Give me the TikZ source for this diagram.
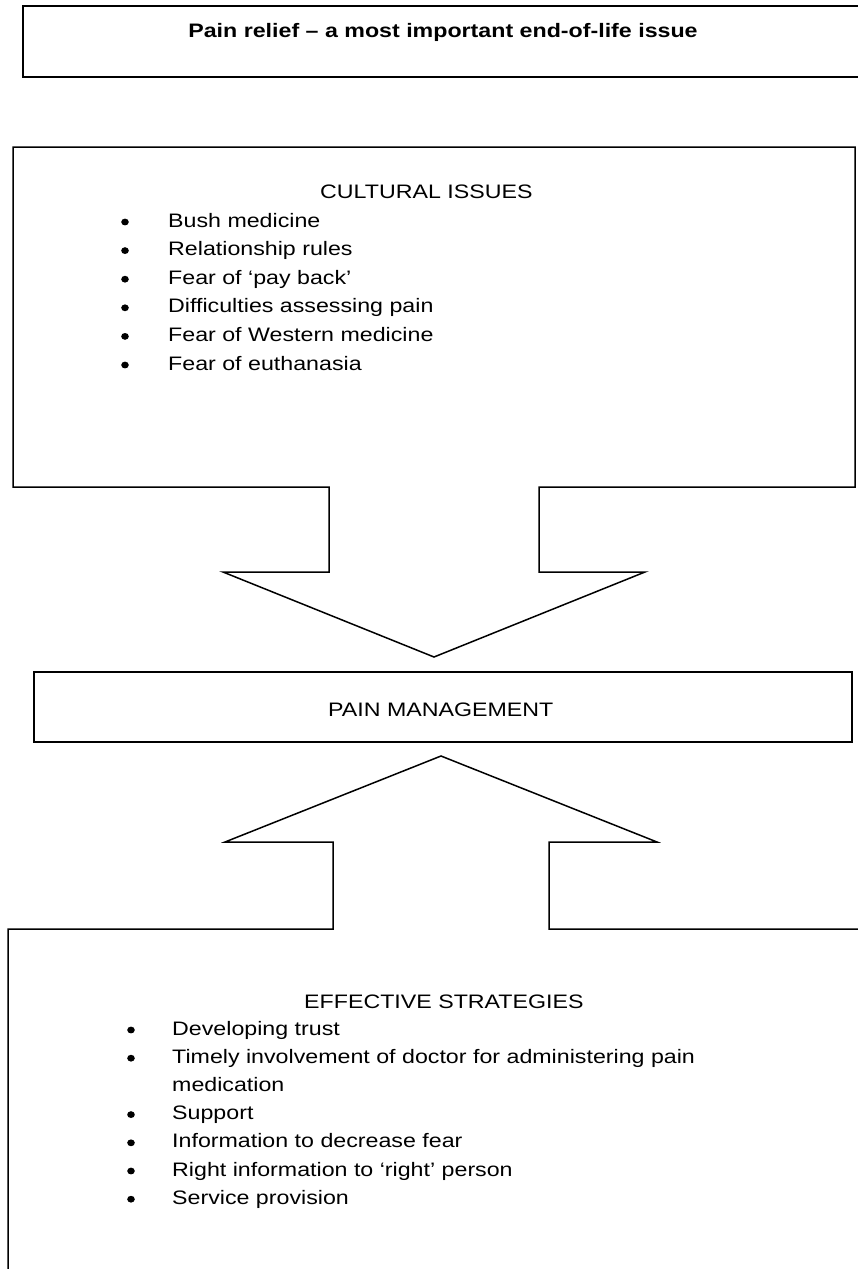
\documentclass[tikz,border=0pt]{standalone}
\usepackage{fontspec}
\setmainfont{Liberation Sans}[FakeStretch=1.19]
\begin{document}
\begin{tikzpicture}[x=1pt,y=-1pt,
  outline/.style={draw=black,line width=1.5pt,line join=miter},
  heavy/.style={draw=black,line width=2.3pt},
  txt/.style={inner sep=0pt,anchor=base west,font=\fontsize{19.5}{23}\selectfont},
  ttl/.style={inner sep=0pt,anchor=base,font=\fontsize{19.5}{23}\selectfont\bfseries},
  dot/.style={fill=black}]
\clip (0,0) rectangle (858,1269);
\fill[white] (0,0) rectangle (858,1269);
% title box
\draw[heavy] (23,6) rectangle (890,77);
\node[ttl] (title) at (443,37) {Pain relief – a most important end-of-life issue};
% cultural issues box with down arrow
\draw[outline] (13,147) -- (855,147) -- (855,487) -- (539,487) -- (539,572)
  -- (645,572) -- (434,657) -- (223,572) -- (329,572) -- (329,487)
  -- (13,487) -- cycle;
\node[txt] (cult) at (320,198) {CULTURAL ISSUES};
\foreach \t [count=\i from 0] in {Bush medicine,Relationship rules,Fear of ‘pay back’,Difficulties assessing pain,Fear of Western medicine,Fear of euthanasia}{
  \fill[dot] (125,{227+28.6*\i-5}) ellipse [x radius=3.8pt, y radius=3.4pt];
  \node[txt] (c\i) at (168,{227+28.6*\i}) {\t};
}
% pain management box
\draw[outline] (34,672) rectangle (852,742);
\node[txt] (pm) at (328,716) {PAIN MANAGEMENT};
% effective strategies box with up arrow
\draw[outline] (8,1300) -- (8,929) -- (333,929) -- (333,842) -- (225,842)
  -- (441,756) -- (657,842) -- (549,842) -- (549,929) -- (890,929);
\node[txt] (eff) at (304,1008) {EFFECTIVE STRATEGIES};
\fill[dot] (131,1030) ellipse [x radius=3.8pt, y radius=3.4pt];
\node[txt] (e1) at (172,1035) {Developing trust};
\fill[dot] (131,1058.2) ellipse [x radius=3.8pt, y radius=3.4pt];
\node[txt] (e2) at (172,1063.2) {Timely involvement of doctor for administering pain};
\node[txt] (e2b) at (172,1091.4) {medication};
\fill[dot] (131,1114.6) ellipse [x radius=3.8pt, y radius=3.4pt];
\node[txt] (e3) at (172,1119.6) {Support};
\fill[dot] (131,1142.8) ellipse [x radius=3.8pt, y radius=3.4pt];
\node[txt] (e4) at (172,1147.8) {Information to decrease fear};
\fill[dot] (131,1171) ellipse [x radius=3.8pt, y radius=3.4pt];
\node[txt] (e5) at (172,1176) {Right information to ‘right’ person};
\fill[dot] (131,1199.2) ellipse [x radius=3.8pt, y radius=3.4pt];
\node[txt] (e6) at (172,1204.2) {Service provision};
\end{tikzpicture}
\end{document}
